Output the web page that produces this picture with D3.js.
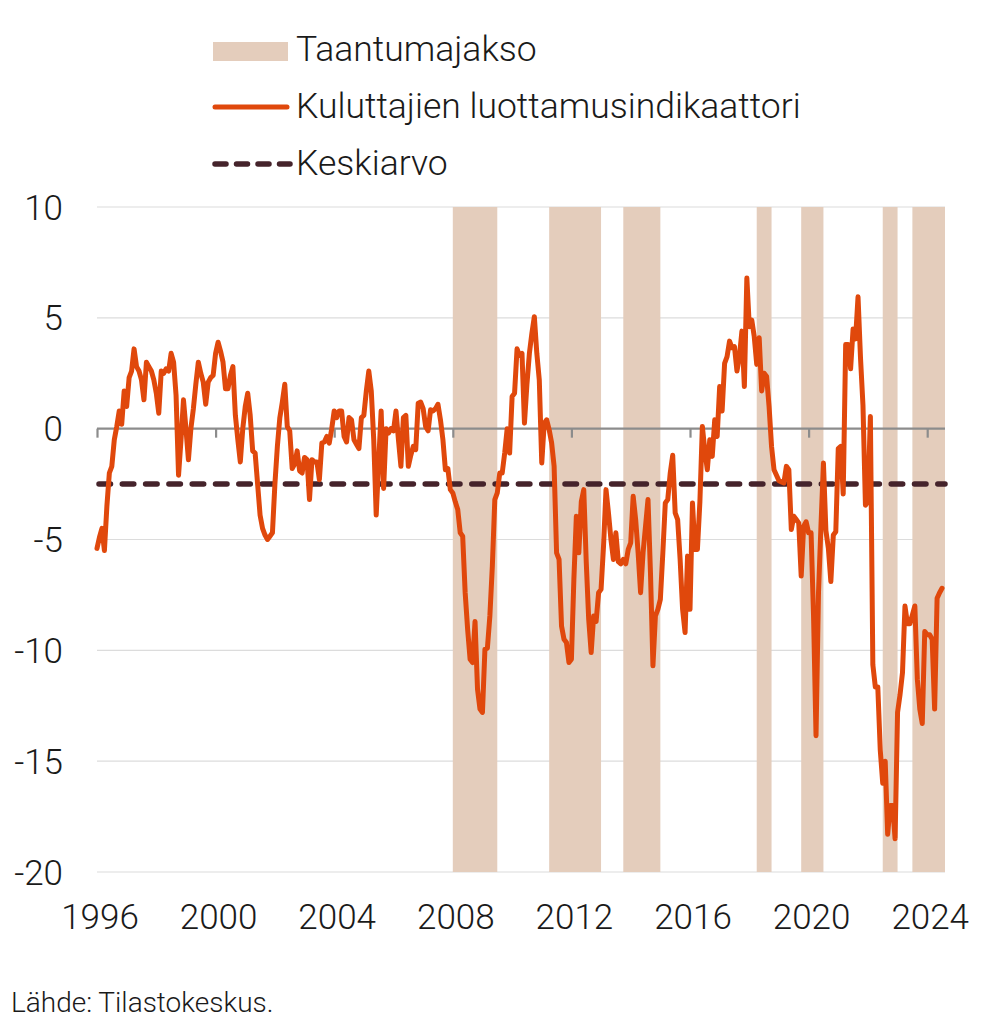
<!DOCTYPE html>
<html>
<head>
<meta charset="utf-8">
<script src="https://cdn.jsdelivr.net/npm/d3@7"></script>
<style>
  html, body { margin: 0; padding: 0; background: #fff; }
  svg text { font-family: Roboto, "Noto Sans", sans-serif; font-weight: 300; fill: #1a1a1a; }
</style>
</head>
<body>
<svg id="chart" width="1007" height="1024"></svg>
<script>
// ---- data ----
const startYear = 1996; // monthly series, first value = January 1996
const confidence = [
  -5.4, -4.9, -4.5, -5.5, -3.5, -2.0, -1.7, -0.5, 0.1, 0.8, 0.2, 1.7,
  1.0, 2.3, 2.6, 3.6, 2.8, 2.6, 2.2, 1.3, 3.0, 2.8, 2.6, 2.2,
  1.6, 0.7, 2.6, 2.5, 2.7, 2.6, 3.4, 3.0, 1.5, -2.1, -0.5, 1.3,
  0.0, -1.4, 0.0, 0.9, 2.0, 3.0, 2.5, 2.1, 1.1, 2.1, 2.3, 2.4,
  3.4, 3.9, 3.5, 3.0, 1.8, 1.8, 2.4, 2.8, 0.6, -0.5, -1.5, 0.0,
  1.0, 1.6, 0.6, -1.0, -1.1, -2.5, -3.9, -4.5, -4.8, -5.0, -4.85, -4.7,
  -2.5, -0.8, 0.5, 1.2, 2.0, 0.1, -0.1, -1.8, -1.6, -1.0, -1.9, -2.0,
  -1.3, -1.4, -3.2, -1.4, -1.5, -1.5, -2.3, -0.65, -0.6, -0.35, -0.65, 0.0,
  0.8, 0.5, 0.8, 0.8, -0.35, -0.6, 0.5, 0.4, -0.5, -0.7, -0.9, 0.5,
  0.6, 1.7, 2.6, 1.7, -0.5, -3.9, -1.5, 0.8, -2.7, 0.0, -0.2, 0.0,
  -0.1, 0.8, -0.5, -1.7, 0.5, 0.6, -1.7, -1.2, -0.8, -0.95, 1.15, 1.2,
  0.9, 0.1, -0.1, 0.85, 0.8, 0.9, 1.1, 0.4, -0.5, -1.85, -1.8, -2.75,
  -2.9, -3.3, -3.65, -4.7, -4.85, -7.4, -9.05, -10.4, -10.55, -8.7, -11.75, -12.65,
  -12.8, -9.95, -9.9, -8.45, -6.2, -3.2, -2.9, -2.0, -2.0, -1.1, 0.0, -1.1,
  1.45, 1.6, 3.6, 3.3, 3.4, 0.25, 2.0, 3.4, 4.3, 5.05, 3.4, 2.2,
  -1.55, 0.25, 0.4, -0.05, -0.65, -1.7, -5.6, -5.9, -8.9, -9.5, -9.65, -10.55,
  -10.4, -6.8, -3.95, -5.6, -3.3, -2.75, -6.0, -8.6, -10.1, -8.45, -8.7, -7.4,
  -7.25, -5.3, -2.75, -3.8, -5.0, -5.9, -4.7, -6.0, -6.1, -5.9, -6.1, -5.45,
  -5.15, -3.05, -4.1, -5.6, -7.4, -5.6, -4.4, -3.2, -6.5, -10.7, -8.45, -8.15,
  -7.7, -5.6, -3.35, -3.2, -2.0, -1.2, -3.8, -4.1, -5.9, -8.15, -9.2, -5.75,
  -8.15, -3.35, -5.45, -5.45, -3.3, 0.1, -1.0, -1.85, -0.5, -1.25, 0.4, -0.35,
  1.9, 0.8, 2.95, 3.25, 3.95, 3.65, 3.7, 2.6, 3.25, 4.4, 1.9, 6.8,
  4.6, 4.9, 4.15, 2.9, 4.1, 1.7, 2.5, 2.35, 1.0, -0.8, -1.85, -2.1,
  -2.35, -2.4, -2.45, -1.7, -1.85, -4.55, -3.95, -4.1, -4.25, -6.65, -4.4, -4.2,
  -4.7, -4.7, -8.45, -13.85, -7.4, -4.4, -1.55, -4.6, -5.4, -6.9, -4.8, -4.65,
  -0.9, -0.8, -2.95, 3.8, 3.8, 2.7, 4.5, 4.05, 5.95, 3.2, 1.05, -3.45,
  -3.3, 0.55, -10.65, -11.65, -11.65, -14.5, -16.0, -15.0, -18.3, -17.0, -17.0, -18.5,
  -12.8, -12.0, -11.0, -8.0, -8.8, -8.8, -8.4, -8.0, -11.3, -12.65, -13.3, -9.15,
  -9.3, -9.3, -9.5, -12.65, -7.65, -7.4, -7.2
];
const averageValue = -2.5;
const recessionStart = [2008.0, 2011.25, 2013.75, 2018.25, 2019.75, 2022.5, 2023.5];
const recessionEnd   = [2009.5, 2013.0, 2015.0, 2018.75, 2020.5, 2023.0, 2024.6];
const xTicks = [1996, 2000, 2004, 2008, 2012, 2016, 2020, 2024];
const yTicks = [10, 5, 0, -5, -10, -15, -20];
const legendLabels = ["Taantumajakso", "Kuluttajien luottamusindikaattori", "Keskiarvo"];
const sourceText = "Lähde: Tilastokeskus.";

// ---- colours ----
const cLine = "#e0480c", cBand = "#e4cdbc", cMean = "#45232b", cGrid = "#dcdcdc", cAxis = "#8c8c8c";

const svg = d3.select("#chart");
const x = d3.scaleLinear().domain([1996, 2024.6]).range([97, 945]);
const y = d3.scaleLinear().domain([-20, 10]).range([872, 207]);

const series = confidence.map((v, i) => ({ t: startYear + i / 12, v }));

// grid
svg.append("g").selectAll("line").data(yTicks.filter(d => d !== 0)).join("line")
  .attr("x1", x.range()[0]).attr("x2", x.range()[1])
  .attr("y1", d => y(d)).attr("y2", d => y(d))
  .attr("stroke", cGrid).attr("stroke-width", 1.2);

// recession bands
svg.append("g").selectAll("rect").data(recessionStart.map((s, i) => [s, recessionEnd[i]])).join("rect")
  .attr("x", d => x(d[0])).attr("width", d => x(d[1]) - x(d[0]))
  .attr("y", y(10)).attr("height", y(-20) - y(10))
  .attr("fill", cBand);

// zero axis with ticks
const xAxis = d3.axisBottom(x).tickValues(xTicks).tickSize(9).tickFormat("");
const ax = svg.append("g").attr("transform", `translate(0,${y(0)})`).call(xAxis);
ax.select(".domain").attr("stroke", cAxis).attr("stroke-width", 2.2).attr("d", `M${x.range()[0]},0H${x.range()[1]}`);
ax.selectAll(".tick line").attr("stroke", cAxis).attr("stroke-width", 2.2);

// x labels
svg.append("g").selectAll("text").data(xTicks).join("text")
  .attr("x", d => x(d) + 3).attr("y", 929)
  .attr("text-anchor", "middle").attr("font-size", 35).text(d => d);

// y labels
svg.append("g").selectAll("text").data(yTicks).join("text")
  .attr("x", 63).attr("y", d => y(d)).attr("dy", "0.36em")
  .attr("text-anchor", "end").attr("font-size", 35).text(d => d);

// mean line
svg.append("line")
  .attr("x1", x.range()[0] + 2).attr("x2", x.range()[1])
  .attr("y1", y(averageValue)).attr("y2", y(averageValue))
  .attr("stroke", cMean).attr("stroke-width", 5.5)
  .attr("stroke-linecap", "round").attr("stroke-dasharray", "11.5 11.8");

// series line
svg.append("path").datum(series)
  .attr("fill", "none").attr("stroke", cLine).attr("stroke-width", 5)
  .attr("stroke-linejoin", "round").attr("stroke-linecap", "round")
  .attr("d", d3.line().x(d => x(d.t)).y(d => y(d.v)));

// legend
const lg = svg.append("g");
lg.append("rect").attr("x", 213).attr("y", 42).attr("width", 75).attr("height", 19).attr("fill", cBand);
lg.append("line").attr("x1", 215).attr("x2", 287).attr("y1", 107).attr("y2", 107)
  .attr("stroke", cLine).attr("stroke-width", 5).attr("stroke-linecap", "round");
lg.append("line").attr("x1", 215).attr("x2", 290).attr("y1", 164).attr("y2", 164)
  .attr("stroke", cMean).attr("stroke-width", 5.5).attr("stroke-linecap", "round")
  .attr("stroke-dasharray", "11 10.5");
lg.selectAll("text").data(legendLabels).join("text")
  .attr("x", 296).attr("y", (d, i) => 61 + i * 57)
  .attr("font-size", 35.5).text(d => d);

// source
svg.append("text").attr("x", 11).attr("y", 1012).attr("font-size", 28).text(sourceText);
</script>
</body>
</html>
